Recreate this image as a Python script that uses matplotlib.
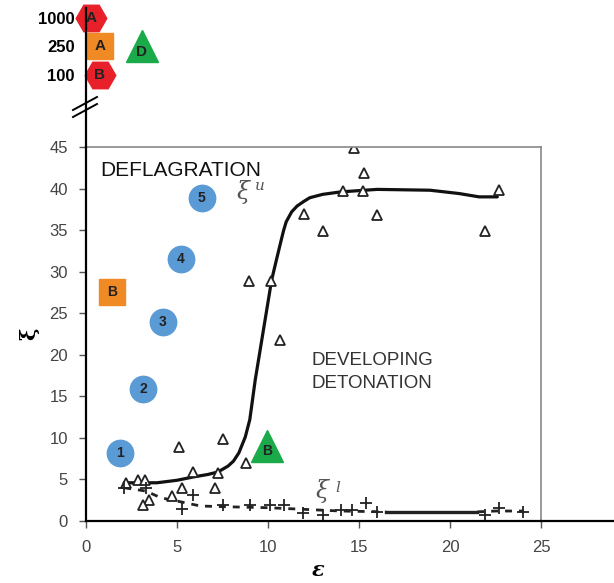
import matplotlib
matplotlib.use("Agg")
import matplotlib.pyplot as plt
import numpy as np

plt.rcParams['font.family'] = ['Liberation Sans', 'DejaVu Sans']

# measured points, upper limit xi_u (open triangles)
tri_x = [2.2, 2.86, 3.24, 5.1, 5.9, 7.5, 7.25, 8.8, 5.3, 7.1, 4.7, 3.46, 3.13,
         8.95, 10.15, 10.65, 14.7, 15.3, 14.1, 15.2, 22.7, 12.0, 13.0, 16.0, 21.9]
tri_y = [4.6, 4.9, 4.9, 8.9, 5.9, 9.9, 5.8, 7.0, 4.0, 4.0, 3.0, 2.5, 1.9,
         28.9, 28.9, 21.8, 44.9, 41.9, 39.7, 39.7, 39.8, 36.9, 34.9, 36.8, 34.9]

# measured points, lower limit xi_l (plus signs)
plus_x = [2.1, 3.3, 5.9, 5.3, 7.5, 9.0, 10.1, 10.9, 11.9, 13.0, 14.0, 14.6,
          15.4, 16.0, 21.9, 22.7, 24.0]
plus_y = [4.0, 4.0, 3.1, 1.4, 1.9, 1.9, 1.9, 1.9, 1.0, 0.7, 1.3, 1.3,
          2.2, 1.1, 0.7, 1.6, 1.1]

# fitted curves
xiu_x = [2.1, 3.0, 3.9, 5.0, 5.9, 6.7, 7.25, 7.8, 8.1, 8.4, 8.75, 9.0, 9.3,
         9.6, 9.84, 10.2, 10.45, 10.66, 10.85, 11.0, 11.3, 11.6, 12.0, 12.3,
         13.0, 14.0, 16.0, 18.9, 20.5, 21.6, 22.6]
xiu_y = [4.6, 4.6, 4.6, 4.9, 5.3, 5.6, 5.9, 6.6, 7.2, 8.2, 10.1, 12.2, 17.0,
         21.0, 24.2, 29.0, 31.3, 33.2, 34.9, 36.0, 37.2, 37.9, 38.5, 38.9,
         39.3, 39.6, 39.9, 39.8, 39.4, 39.0, 39.0]

xil_x = [2.1, 3.3, 4.1, 5.0, 6.3, 8.0, 10.0, 12.0, 14.0, 16.5, 21.5, 22.5, 24.0]
xil_y = [4.0, 3.6, 2.8, 2.4, 1.8, 1.7, 1.6, 1.4, 1.2, 1.1, 1.1, 1.2, 1.2]

# highlighted cases
case_labels = ['1', '2', '3', '4', '5']
case_x = [1.87, 3.13, 4.23, 5.22, 6.37]
case_y = [8.2, 15.9, 23.9, 31.5, 38.9]

sqB_x, sqB_y = 1.43, 27.6
triB_x, triB_y = 9.95, 9.0

# upper (scale-break) part
top_levels = ['100', '250', '1000']

RED = '#e8202a'
ORANGE = '#ef8a25'
BLUE = '#5b9bd5'
GREEN = '#1aaa4a'
TXT = '#222222'

fig = plt.figure(figsize=(6.14, 5.83), dpi=100)
W, H = 614, 583

def ax_rect(l, t, r, b):
    return [l / W, 1 - b / H, (r - l) / W, (b - t) / H]

ax = fig.add_axes(ax_rect(86, 147, 541, 521))
ax.set_xlim(0, 25)
ax.set_ylim(0, 45)
ax.set_xticks(range(0, 26, 5))
ax.set_yticks(range(0, 46, 5))
ax.tick_params(labelsize=12, colors='#444444', length=5, width=1)
ax.tick_params(axis='both', color='#555555')
ax.tick_params(axis='x', pad=9)
ax.tick_params(axis='y', pad=8)
for s in ['top', 'right']:
    ax.spines[s].set_color('#888888')
    ax.spines[s].set_linewidth(1.2)
for s in ['left', 'bottom']:
    ax.spines[s].set_color('black')
    ax.spines[s].set_linewidth(1.6)
ax.plot([25, 30], [0, 0], color='black', lw=1.6, clip_on=False)

# curves
ax.plot(xiu_x, xiu_y, color='#111111', lw=2.3, solid_capstyle='round',
        solid_joinstyle='round')
xl = np.array(xil_x)
yl = np.array(xil_y)
m1 = xl <= 16.5
m2 = (xl >= 16.5) & (xl <= 21.5)
m3 = xl >= 21.5
ax.plot(xl[m1], yl[m1], color='#222222', lw=2, ls=(0, (2.5, 2.5)))
ax.plot(xl[m2], yl[m2], color='#222222', lw=2.4)
ax.plot(xl[m3], yl[m3], color='#222222', lw=2, ls=(0, (2.5, 2.5)))

ax.plot(tri_x, tri_y, ls='none', marker='^', ms=7, mfc='white', mec='#222222', mew=1.3)
ax.plot(plus_x, plus_y, ls='none', marker='+', ms=8, mec='#222222', mew=1.3)

ax.text(0.77, 42.2, 'DEFLAGRATION', fontsize=15, color='#111111', va='center')
ax.text(12.4, 17.9, 'DEVELOPING\nDETONATION', fontsize=13.5, color='#333333',
        va='center', linespacing=1.45)
ax.text(8.3, 39.6, 'ξ', fontsize=17, color='#555555', va='center', style='italic',
        family=['DejaVu Serif'])
ax.text(9.3, 40.3, 'u', fontsize=11, color='#555555', va='center', style='italic',
        family=['DejaVu Serif'])
ax.text(12.6, 3.6, 'ξ', fontsize=17, color='#555555', va='center', style='italic',
        family=['DejaVu Serif'])
ax.text(13.7, 4.0, 'l', fontsize=11, color='#555555', va='center', style='italic',
        family=['DejaVu Serif'])

for lab, x, y in zip(case_labels, case_x, case_y):
    ax.plot(x, y, marker='o', ms=19, color=BLUE, clip_on=False, zorder=5)
    ax.text(x, y, lab, fontsize=10, fontweight='bold', color=TXT,
            ha='center', va='center', zorder=6)
ax.plot(sqB_x, sqB_y, marker='s', ms=19, color=ORANGE, zorder=5)
ax.text(sqB_x, sqB_y, 'B', fontsize=10, fontweight='bold', color=TXT,
        ha='center', va='center', zorder=6)
ax.plot(triB_x, triB_y, marker='^', ms=23, color=GREEN, zorder=5)
ax.text(triB_x, triB_y - 0.6, 'B', fontsize=10, fontweight='bold', color=TXT,
        ha='center', va='center', zorder=6)

ax.set_ylabel('ξ', fontsize=15, fontweight='bold', labelpad=7, family=['DejaVu Serif'])
fig.text(318 / W, 1 - 560 / H, 'ε', fontsize=15, fontweight='bold', style='italic',
         ha='center', va='top', family=['DejaVu Serif'])

# top part above the axis break
axt = fig.add_axes(ax_rect(86, 8, 541, 147))
axt.set_xlim(0, 25)
axt.set_ylim(-2.53, 2.35)
axt.patch.set_alpha(0)
for s in ['top', 'right', 'bottom']:
    axt.spines[s].set_visible(False)
axt.spines['left'].set_linewidth(1.6)
axt.set_xticks([])
axt.set_yticks(range(len(top_levels)))
axt.set_yticklabels(top_levels, fontsize=12, fontweight='bold')
axt.tick_params(axis='y', length=0, pad=8)

axt.plot(0.3, 2, marker='H', ms=22, color=RED, clip_on=False)
axt.text(0.3, 2, 'A', fontsize=11, fontweight='bold', color=TXT, ha='center', va='center')
axt.plot(0.75, 1, marker='s', ms=19, color=ORANGE, clip_on=False)
axt.text(0.75, 1, 'A', fontsize=11, fontweight='bold', color=TXT, ha='center', va='center')
axt.plot(0.75, 0, marker='H', ms=22, color=RED, clip_on=False)
axt.text(0.75, 0, 'B', fontsize=11, fontweight='bold', color=TXT, ha='center', va='center')
axt.plot(3.05, 1, marker='^', ms=23, color=GREEN, clip_on=False)
axt.text(3.05, 0.8, 'D', fontsize=11, fontweight='bold', color=TXT, ha='center', va='center')

# break marks
for dy in (0, 7):
    fig.add_artist(plt.Line2D([73 / W, 97 / W], [1 - (110 + dy) / H, 1 - (97 + dy) / H],
                              color='black', lw=1.4))

fig.savefig('out.png', dpi=100)
